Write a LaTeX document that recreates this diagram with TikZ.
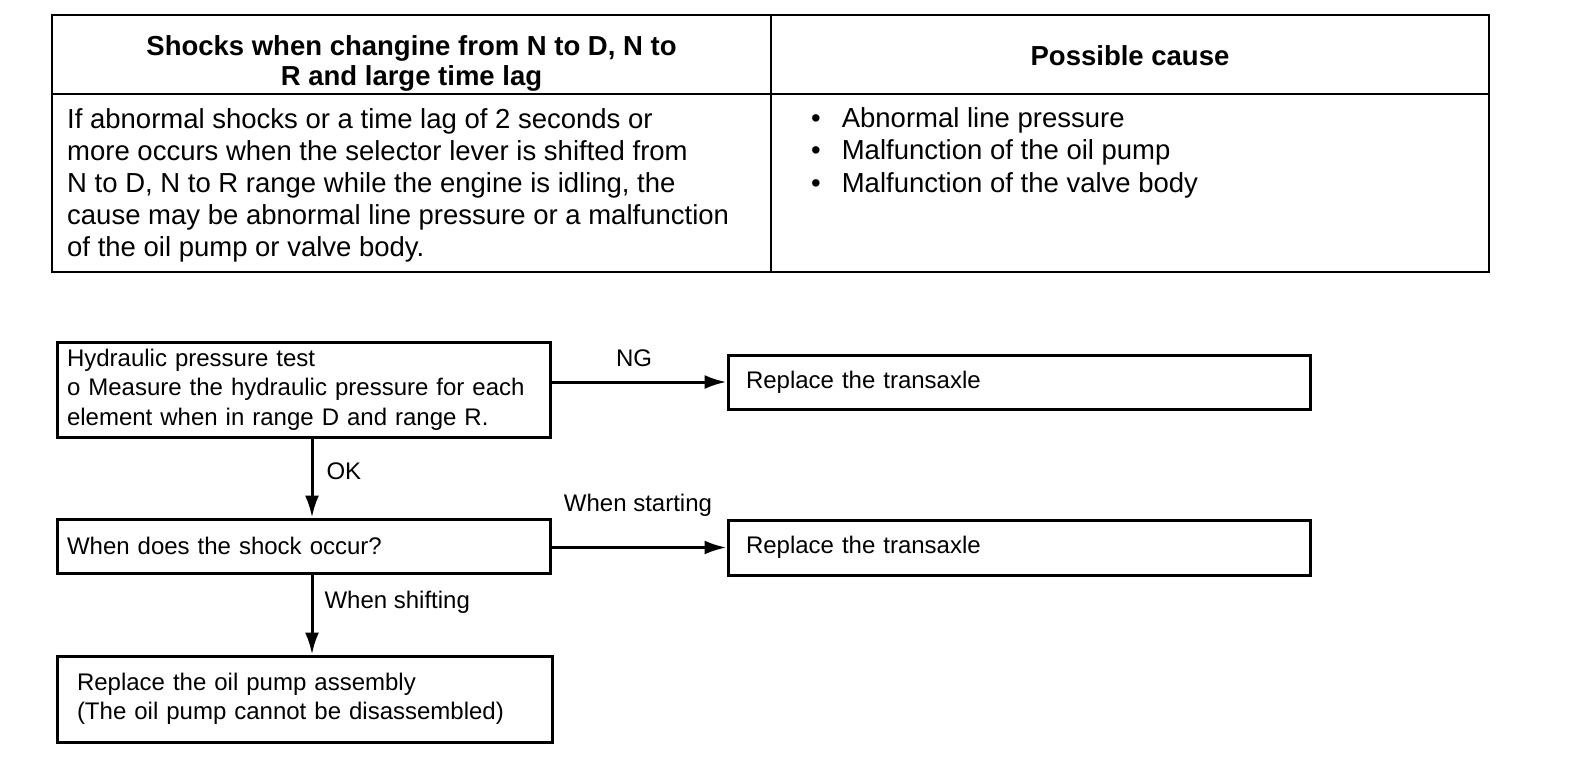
\documentclass[tikz,border=0pt]{standalone}
\usepackage{fontspec}
\setmainfont{Liberation Sans}
\usetikzlibrary{arrows.meta}

\tikzset{
  tabtext/.style={inner sep=0pt,font=\fontsize{27.5}{32}\selectfont},
  flowbox/.style={draw,line width=3pt,rectangle,inner ysep=0pt,align=left,
    font=\fontsize{24}{29.5}\selectfont},
  flowlbl/.style={inner sep=0pt,font=\fontsize{24}{29.5}\selectfont},
  flowarrow/.style={line width=3pt,-{Latex[length=22pt,width=14pt]}}
}

\begin{document}
\begin{tikzpicture}[x=1pt,y=-1pt] % tableau et organigramme, en pixels

\useasboundingbox (0,0) rectangle (1584,776);

% tableau du haut
\draw[line width=2pt] (52,15) rectangle (1489,272);
\draw[line width=2pt] (52,94) -- (1489,94);
\draw[line width=2pt] (771,15) -- (771,272);

\node[tabtext,align=center,font=\bfseries\fontsize{27.5}{30}\selectfont] (head1) at (411.5,63)
  {Shocks when changine from N to D, N to\\R and large time lag};
\node[tabtext,font=\bfseries\fontsize{27.5}{32}\selectfont] (head2) at (1130,56) {Possible cause};

\node[tabtext,anchor=west,align=left] (symptom) at (67,185.5)
  {If abnormal shocks or a time lag of 2 seconds or\\
   more occurs when the selector lever is shifted from\\
   N to D, N to R range while the engine is idling, the\\
   cause may be abnormal line pressure or a malfunction\\
   of the oil pump or valve body.};

\foreach \y/\t [count=\i] in {120/Abnormal line pressure,152.5/Malfunction of the oil pump,185/Malfunction of the valve body}
{
	\node[tabtext,anchor=west] (cause\i) at (811,\y) {\textbullet\hspace{21pt}\t};
}

% organigramme
\node[flowbox,text width=473pt,inner xsep=10pt,minimum height=95pt] (test) at (303.5,389.5)
  {Hydraulic pressure test\\
   o Measure the hydraulic pressure for each\\
   element when in range D and range R.};
\node[flowbox,text width=546pt,inner xsep=18pt,minimum height=54pt] (swap1) at (1019,382)
  {Replace the transaxle};
\node[flowbox,text width=473pt,inner xsep=10pt,minimum height=54pt] (when) at (303.5,546)
  {When does the shock occur?};
\node[flowbox,text width=546pt,inner xsep=18pt,minimum height=55pt] (swap2) at (1019,547.5)
  {Replace the transaxle};
\node[flowbox,text width=455pt,inner xsep=20pt,minimum height=86pt] (pump) at (304.5,699)
  {Replace the oil pump assembly\\
   (The oil pump cannot be disassembled)};

\coordinate (vx) at (312,0);

\draw[flowarrow] (test.east |- swap1.west) -- (swap1.west)
  node[flowlbl,midway,xshift=-5pt,yshift=24pt] (ng) {NG};
\draw[flowarrow] (when.east |- swap2.west) -- (swap2.west)
  node[flowlbl,midway,xshift=-1pt,yshift=42pt] (start) {When starting};
\draw[flowarrow] (test.south -| vx) -- (when.north -| vx)
  node[flowlbl,midway,anchor=west,xshift=13pt,yshift=7pt] (ok) {OK};
\draw[flowarrow] (when.south -| vx) -- (pump.north -| vx)
  node[flowlbl,midway,anchor=west,xshift=11pt,yshift=12.5pt] (shift) {When shifting};

\end{tikzpicture}
\end{document}
